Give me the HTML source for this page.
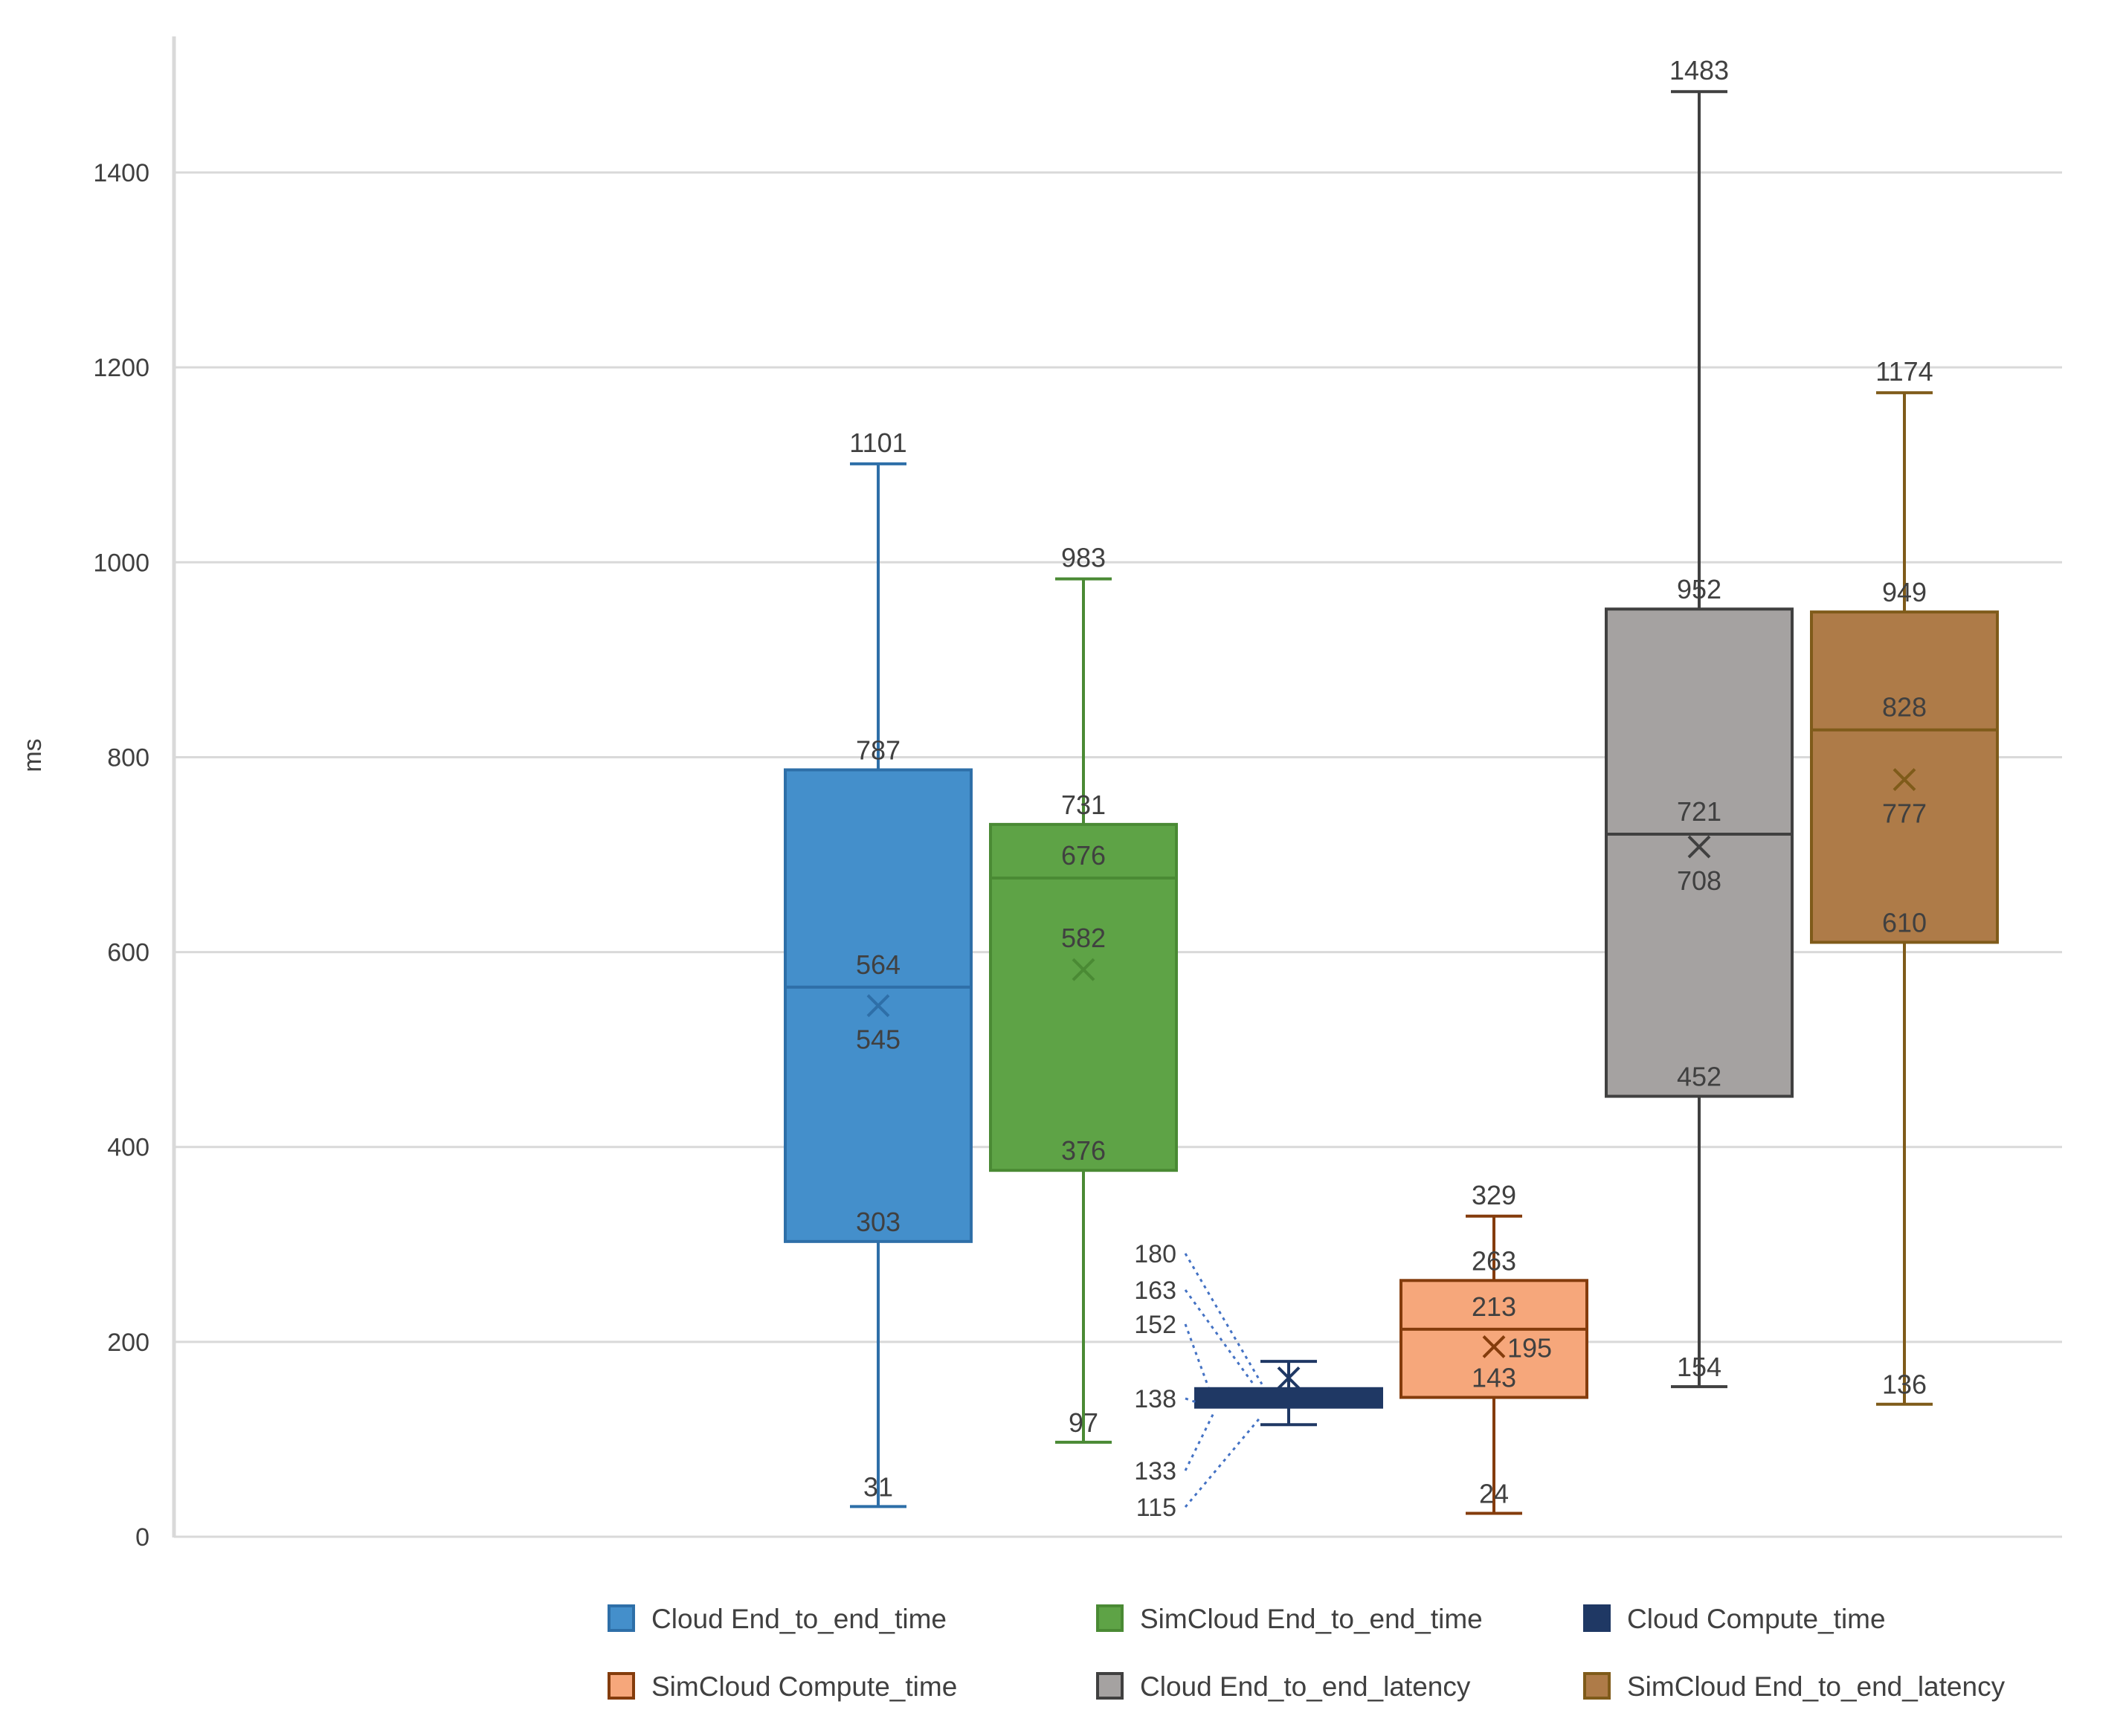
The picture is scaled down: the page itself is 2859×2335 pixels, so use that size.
<!DOCTYPE html>
<html><head><meta charset="utf-8"><style>
html,body{margin:0;padding:0;background:#fff;}
svg{display:block;}
text{font-family:"Liberation Sans Narrow","Liberation Sans",sans-serif;fill:#404040;}
</style></head><body>
<svg id="chart" width="2859" height="2335" viewBox="0 0 2859 2335" xmlns="http://www.w3.org/2000/svg">
<g id="grid"></g>
<g id="yticks"></g>
<line x1="234" y1="49" x2="234" y2="2068" stroke="#d9d9d9" stroke-width="5"/>
<text x="55" y="1016" font-size="34" text-anchor="middle" transform="rotate(-90 55 1016)" fill="#595959">ms</text>
<g id="boxes"></g>
<g id="legend"></g>
</svg>
<script>
const categories=["Cloud End_to_end_time","SimCloud End_to_end_time","Cloud Compute_time","SimCloud Compute_time","Cloud End_to_end_latency","SimCloud End_to_end_latency"];
const mins=[31,97,115,24,154,136];
const q1s=[303,376,133,143,452,610];
const medians=[564,676,138,213,721,828];
const q3s=[787,731,152,263,952,949];
const maxs=[1101,983,180,329,1483,1174];
const means=[545,582,163,195,708,777];
const yTicks=[0,200,400,600,800,1000,1200,1400];
const fills=["#448fcb","#5ea346","#1f3864","#f6a77b","#a5a2a1","#ae7b48"];
const strokes=["#2e6fa8","#4a8a34","#1f3864","#843c0c","#404040","#7f5b1a"];
const NS="http://www.w3.org/2000/svg";
const y0=2067, pxPerMs=1.3107;
function Y(v){return y0-v*pxPerMs;}
function X(i){return 1181+i*276;}
function mk(tag,attrs,parent){const e=document.createElementNS(NS,tag);for(const k in attrs)e.setAttribute(k,attrs[k]);parent.appendChild(e);return e;}
const grid=document.getElementById('grid'),yt=document.getElementById('yticks');
yTicks.forEach(t=>{
  const l=mk('line',{x1:234,x2:2773,y1:Y(t),y2:Y(t),stroke:'#d9d9d9','stroke-width':3},grid);
  
  
  const tx=mk('text',{x:201,y:Y(t)+12,'font-size':34,'text-anchor':'end',fill:'#595959'},yt);
  tx.textContent=t;
  
  
});
const boxes=document.getElementById('boxes');
const bw=250, cap=76;
function lbl(g,x,y,txt,anchor,size){const t=mk('text',{x:x,y:y,'font-size':size||36,'text-anchor':anchor||'middle'},g);t.textContent=txt;
  
  return t;}
categories.forEach((c,i)=>{
  const g=mk('g',{},boxes);
  
  
  const cx=X(i), s=strokes[i];
  mk('line',{x1:cx,x2:cx,y1:Y(maxs[i]),y2:Y(q3s[i]),stroke:s,'stroke-width':4},g);
  mk('line',{x1:cx,x2:cx,y1:Y(q1s[i]),y2:Y(mins[i]),stroke:s,'stroke-width':4},g);
  mk('line',{x1:cx-cap/2,x2:cx+cap/2,y1:Y(maxs[i]),y2:Y(maxs[i]),stroke:s,'stroke-width':4},g);
  mk('line',{x1:cx-cap/2,x2:cx+cap/2,y1:Y(mins[i]),y2:Y(mins[i]),stroke:s,'stroke-width':4},g);
  mk('rect',{x:cx-bw/2,y:Y(q3s[i]),width:bw,height:Y(q1s[i])-Y(q3s[i]),fill:fills[i],stroke:s,'stroke-width':4},g);
  mk('line',{x1:cx-bw/2,x2:cx+bw/2,y1:Y(medians[i]),y2:Y(medians[i]),stroke:s,'stroke-width':4},g);
  const my=Y(means[i]), d=14;
  mk('path',{d:`M${cx-d} ${my-d}L${cx+d} ${my+d}M${cx+d} ${my-d}L${cx-d} ${my+d}`,stroke:s,'stroke-width':4,fill:'none'},g);
  if(i===2){
    const vals=[maxs[i],means[i],q3s[i],medians[i],q1s[i],mins[i]];
    const ly=[1686,1735,1781,1881,1978,2027];
    const tdx=[-36,-46,-108,-124,-100,-40];
    const tdy=[-6,-4,-2,0,6,16];
    const tv=[q3s[i],q3s[i],q3s[i],medians[i],q1s[i],q1s[i]];
    vals.forEach((v,k)=>{
      lbl(g,1582,ly[k]+12,v,'end',34);
      mk('line',{x1:1594,y1:ly[k],x2:cx+tdx[k],y2:Y(tv[k])+tdy[k],stroke:'#4472c4','stroke-width':3,'stroke-dasharray':'4 6'},g);
    });
  } else {
    lbl(g,cx,Y(maxs[i])-16,maxs[i]);
    lbl(g,cx,Y(q3s[i])-14,q3s[i]);
    lbl(g,cx,Y(medians[i])-18,medians[i]);
    if(i===3) lbl(g,cx+18,my+14,means[i],'start');
    else if(i===1) lbl(g,cx,my-30,means[i]);
    else lbl(g,cx,my+58,means[i]);
    lbl(g,cx,Y(q1s[i])-14,q1s[i]);
    lbl(g,cx,Y(mins[i])-14,mins[i]);
  }
});
const leg=document.getElementById('legend');
const lx=[819,1476,2131], ly=[2177,2268];
categories.forEach((c,i)=>{
  const g=mk('g',{},leg);
  
  
  const x=lx[i%3], y=ly[Math.floor(i/3)];
  mk('rect',{x:x,y:y-17,width:33,height:33,fill:fills[i],stroke:strokes[i],'stroke-width':4},g);
  const t=mk('text',{x:x+57,y:y+13,'font-size':37,fill:'#595959'},g);
  t.textContent=c;
});
</script>
</body></html>
